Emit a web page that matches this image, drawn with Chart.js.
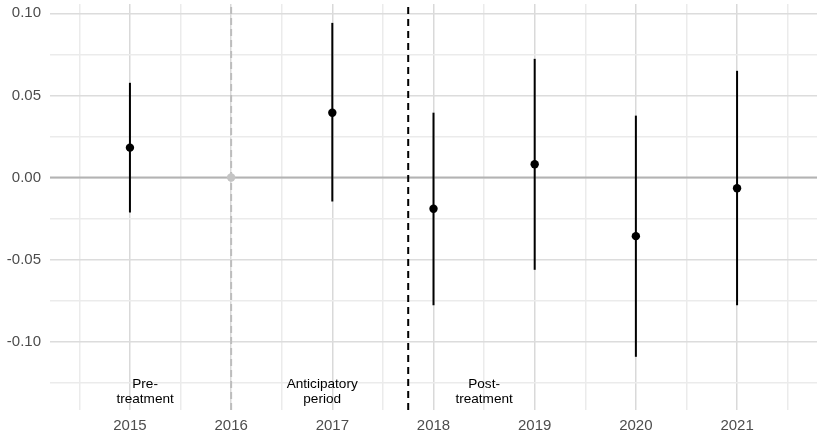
<!DOCTYPE html>
<html>
<head>
<meta charset="utf-8">
<script src="https://cdn.jsdelivr.net/npm/chart.js@4"></script>
<style>
html,body{margin:0;padding:0;background:#fff;}
#wrap{width:817px;height:433px;}
</style>
</head>
<body>
<div id="wrap"><canvas id="c" width="817" height="433"></canvas></div>
<script>
// ---- data ----
const years = [2015, 2016, 2017, 2018, 2019, 2020, 2021];
const estimate = [0.0182, 0.0, 0.0395, -0.0190, 0.0081, -0.0357, -0.0065];
const lower = [-0.0213, 0.0, -0.0146, -0.0778, -0.0562, -0.1092, -0.0778];
const upper = [0.0577, 0.0, 0.0942, 0.0395, 0.0723, 0.0377, 0.0650];
const referenceYear = 2016;
const treatmentLine = 2017.75;
const xTicks = [2014.5, 2015, 2015.5, 2016, 2016.5, 2017, 2017.5, 2018, 2018.5, 2019, 2019.5, 2020, 2020.5, 2021, 2021.5];
const yTicks = [-0.125, -0.1, -0.075, -0.05, -0.025, 0, 0.025, 0.05, 0.075, 0.1];
const periodLabels = [["Pre-", "treatment"], ["Anticipatory", "period"], ["Post-", "treatment"]];
const periodX = [2015.15, 2016.9, 2018.5];
const periodY = -0.1305;

const X_MIN = 2014.21, X_MAX = 2021.79, Y_MIN = -0.1416, Y_MAX = 0.1057;

const isMajorX = v => Math.abs(v - Math.round(v)) < 1e-9;
const isMajorY = v => Math.abs(v * 20 - Math.round(v * 20)) < 1e-9;

const datasets = [];
// points (on top)
datasets.push({
  type: 'scatter',
  data: years.map((y, i) => ({x: y, y: estimate[i]})),
  pointRadius: 4.2,
  pointBackgroundColor: years.map(y => y === referenceYear ? '#c4c4c4' : '#000000'),
  pointBorderWidth: 0,
  showLine: false
});
// error bars
years.forEach((y, i) => {
  if (lower[i] === upper[i]) return;
  datasets.push({
    type: 'line',
    data: [{x: y, y: lower[i]}, {x: y, y: upper[i]}],
    borderColor: '#000000',
    borderWidth: 2,
    pointRadius: 0
  });
});
// treatment dashed line
datasets.push({
  type: 'line',
  data: [{x: treatmentLine, y: Y_MIN}, {x: treatmentLine, y: Y_MAX}],
  borderColor: '#000000', borderWidth: 2, borderDash: [7, 5], pointRadius: 0
});
// reference year dashed line
datasets.push({
  type: 'line',
  data: [{x: referenceYear, y: Y_MIN}, {x: referenceYear, y: Y_MAX}],
  borderColor: '#bdbdbd', borderWidth: 2, borderDash: [7, 4], pointRadius: 0
});
// zero line
datasets.push({
  type: 'line',
  data: [{x: X_MIN, y: 0}, {x: X_MAX, y: 0}],
  borderColor: '#b3b3b3', borderWidth: 2, pointRadius: 0
});

const textPlugin = {
  id: 'periodText',
  afterDatasetsDraw(chart) {
    const ctx = chart.ctx, xs = chart.scales.x, ys = chart.scales.y;
    ctx.save();
    ctx.font = '13.6px "Liberation Sans", Arial, sans-serif';
    ctx.fillStyle = '#000000';
    ctx.textAlign = 'center';
    ctx.textBaseline = 'middle';
    const cy = ys.getPixelForValue(periodY);
    periodLabels.forEach((lines, i) => {
      const cx = xs.getPixelForValue(periodX[i]);
      const lh = 15;
      lines.forEach((t, j) => {
        ctx.fillText(t, cx, cy + (j - (lines.length - 1) / 2) * lh);
      });
    });
    ctx.restore();
  }
};

const zeroPad = s => { s.paddingTop = 0; s.paddingBottom = 0; s.paddingLeft = 0; s.paddingRight = 0; };

new Chart(document.getElementById('c'), {
  type: 'scatter',
  data: {datasets},
  plugins: [textPlugin],
  options: {
    responsive: false,
    animation: false,
    events: [],
    layout: {autoPadding: false, padding: {top: 4, right: 0, left: 0, bottom: 0}},
    plugins: {legend: {display: false}, tooltip: {enabled: false}},
    scales: {
      x: {
        type: 'linear', min: X_MIN, max: X_MAX,
        afterBuildTicks: s => { s.ticks = xTicks.map(v => ({value: v})); },
        afterFit: s => { s.height = 23; zeroPad(s); },
        border: {display: false},
        grid: {
          drawTicks: false,
          color: c => isMajorX(c.tick.value) ? '#d9d9d9' : '#ebebeb',
          lineWidth: 1.5
        },
        ticks: {
          padding: 7,
          autoSkip: false,
          maxRotation: 0,
          color: '#4d4d4d',
          font: {family: '"Liberation Sans", Arial, sans-serif', size: 15},
          callback: v => isMajorX(v) ? String(Math.round(v)) : ''
        }
      },
      y: {
        type: 'linear', min: Y_MIN, max: Y_MAX,
        afterBuildTicks: s => { s.ticks = yTicks.map(v => ({value: v})); },
        afterFit: s => { s.width = 50; zeroPad(s); },
        border: {display: false},
        grid: {
          drawTicks: false,
          color: c => isMajorY(c.tick.value) ? '#dcdcdc' : '#ebebeb',
          lineWidth: 1.5
        },
        ticks: {
          padding: 9,
          autoSkip: false,
          color: '#4d4d4d',
          font: {family: '"Liberation Sans", Arial, sans-serif', size: 15},
          callback: v => isMajorY(v) ? v.toFixed(2) : ''
        }
      }
    }
  }
});
</script>
</body>
</html>
